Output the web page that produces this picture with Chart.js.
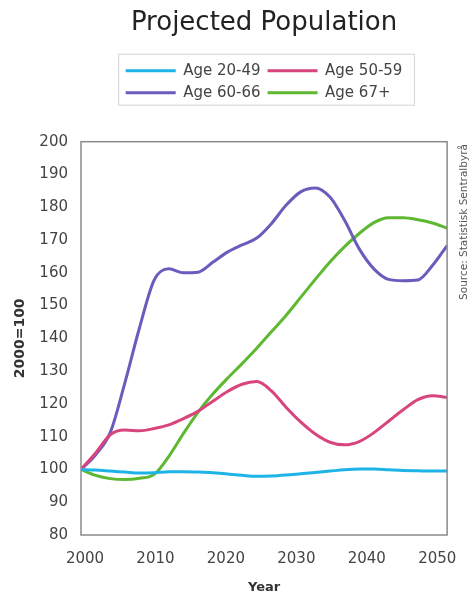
<!DOCTYPE html>
<html>
<head>
<meta charset="utf-8">
<script src="https://cdn.jsdelivr.net/npm/chart.js@4"></script>
<style>
  html, body { margin: 0; padding: 0; background: #fff; }
  #wrap { width: 472px; height: 597px; }
</style>
</head>
<body>
<div id="wrap"><canvas id="popChart" width="472" height="597"></canvas></div>
<script>
// Dados (índice 2000=100)
const years = [2000, 2002, 2004, 2006, 2008, 2010, 2012, 2014, 2016, 2018, 2020, 2022, 2024,
               2026, 2028, 2030, 2032, 2034, 2036, 2038, 2040, 2042, 2044, 2046, 2048, 2050];
const age2049 = [100, 99.8, 99.5, 99.2, 98.9, 99, 99.3, 99.3, 99.2, 99, 98.6, 98.2, 97.9,
                 98, 98.3, 98.7, 99.1, 99.5, 99.9, 100.1, 100.1, 99.9, 99.7, 99.6, 99.5, 99.5];
const age5059 = [100, 105, 110.6, 112, 111.8, 112.5, 113.6, 115.5, 117.8, 120.8, 123.8, 126, 126.8,
                 124, 119, 114.5, 110.8, 108.3, 107.5, 108.5, 111.2, 114.7, 118.2, 121.3, 122.5, 122];
const age6066 = [100, 104.5, 111.3, 126.5, 143.3, 157.8, 161.2, 160, 160.2, 163.2, 166.3, 168.5, 170.6,
                 175, 180.6, 184.7, 185.9, 183.1, 176, 167.3, 161.2, 158, 157.6, 157.8, 162.2, 168.3];
const age67 = [100, 98.2, 97.2, 96.9, 97.3, 98.5, 104, 111, 117.5, 123, 127.8, 132.3, 137,
               142, 147, 152.5, 158, 163.3, 168, 172, 175.3, 176.8, 176.8, 176.2, 175.2, 173.6];
const yearTicks = [2000, 2010, 2020, 2030, 2040, 2050];
const seriesLabels = ['Age 20-49', 'Age 50-59', 'Age 60-66', 'Age 67+'];
const seriesColors = ['#1db3e6', '#d8447e', '#6a5cbd', '#5fb832'];

const fontFamily = '"DejaVu Sans", Verdana, sans-serif';

function toPoints(values) {
    return values.map((v, i) => ({ x: years[i], y: v }));
}

const allValues = [age2049, age5059, age6066, age67];
const datasets = allValues.map((vals, i) => ({
    label: seriesLabels[i],
    data: toPoints(vals),
    borderColor: seriesColors[i],
    backgroundColor: seriesColors[i],
    borderWidth: 3,
    pointRadius: 0,
    fill: false,
    cubicInterpolationMode: 'monotone',
    xAxisID: 'x'
}));

// Legenda em 2 colunas alinhadas + espaço extra abaixo dela
const legendTweaks = {
    id: 'legendTweaks',
    beforeInit(chart) {
        const origFit = chart.legend.fit;
        chart.legend.fit = function () {
            this.maxWidth = Math.min(this.maxWidth, 360);
            origFit.call(this);
            if (this.lineWidths && this.lineWidths.length > 1) {
                this.lineWidths[1] = this.lineWidths[0];
            }
            this.height += 31.5;
        };
    }
};

// Moldura do gráfico, caixa da legenda e a fonte na lateral
const extras = {
    id: 'extras',
    afterDraw(chart) {
        const ctx = chart.ctx;
        const a = chart.chartArea;
        ctx.save();
        ctx.strokeStyle = '#8a8a8a';
        ctx.lineWidth = 1.5;
        ctx.strokeRect(a.left, a.top, a.right - a.left, a.bottom - a.top);

        const boxes = chart.legend.legendHitBoxes;
        if (boxes && boxes.length) {
            const l = Math.min(...boxes.map(b => b.left)) - 7;
            const r = Math.max(...boxes.map(b => b.left + b.width)) + 12;
            const t = Math.min(...boxes.map(b => b.top)) - 9;
            const btm = Math.max(...boxes.map(b => b.top + b.height)) + 5;
            ctx.strokeStyle = '#d4d4d4';
            ctx.lineWidth = 1;
            ctx.strokeRect(l, t, r - l, btm - t);
        }

        ctx.translate(464, 222);
        ctx.rotate(-Math.PI / 2);
        ctx.fillStyle = '#555';
        ctx.font = '10.5px ' + fontFamily;
        ctx.textAlign = 'center';
        ctx.textBaseline = 'middle';
        ctx.fillText('Source: Statistisk Sentralbyrå', 0, 0);
        ctx.restore();
    }
};

new Chart(document.getElementById('popChart'), {
    type: 'line',
    data: { datasets },
    options: {
        responsive: false,
        animation: false,
        layout: { padding: { left: 4, right: 24, top: 0, bottom: 0 } },
        plugins: {
            title: {
                display: true,
                text: 'Projected Population',
                fullSize: false,
                color: '#222',
                font: { family: fontFamily, size: 26, weight: 'normal' },
                padding: { top: 8, bottom: 17 }
            },
            legend: {
                display: true,
                position: 'top',
                fullSize: false,
                labels: {
                    color: '#444',
                    font: { family: fontFamily, size: 15 },
                    boxWidth: 50,
                    boxHeight: 0,
                    padding: 7
                }
            },
            tooltip: { enabled: false }
        },
        scales: {
            x: {
                type: 'linear',
                min: 2000,
                max: 2050,
                display: false
            },
            xl: {
                type: 'linear',
                position: 'bottom',
                min: 1999.43,
                max: 2051.4,
                grid: { display: false, drawTicks: false },
                border: { display: false },
                afterBuildTicks(scale) {
                    scale.ticks = yearTicks.map(v => ({ value: v }));
                },
                afterFit(scale) { scale.height = 62; },
                ticks: {
                    color: '#444',
                    font: { family: fontFamily, size: 15 },
                    padding: 15,
                    maxRotation: 0,
                    autoSkip: false,
                    callback: v => String(v)
                },
                title: {
                    display: true,
                    text: 'Year',
                    color: '#333',
                    font: { family: fontFamily, size: 13, weight: 'bold' },
                    padding: { top: 0, bottom: 2 }
                }
            },
            y: {
                min: 80,
                max: 200,
                grid: { display: false, drawTicks: false },
                border: { display: false },
                afterFit(scale) { scale.width = 77; },
                ticks: {
                    stepSize: 10,
                    color: '#444',
                    font: { family: fontFamily, size: 15 },
                    padding: 13
                },
                title: {
                    display: true,
                    text: '2000=100',
                    color: '#333',
                    font: { family: fontFamily, size: 14, weight: 'bold' },
                    padding: { top: 8, bottom: 0 }
                }
            }
        }
    },
    plugins: [legendTweaks, extras]
});
</script>
</body>
</html>
